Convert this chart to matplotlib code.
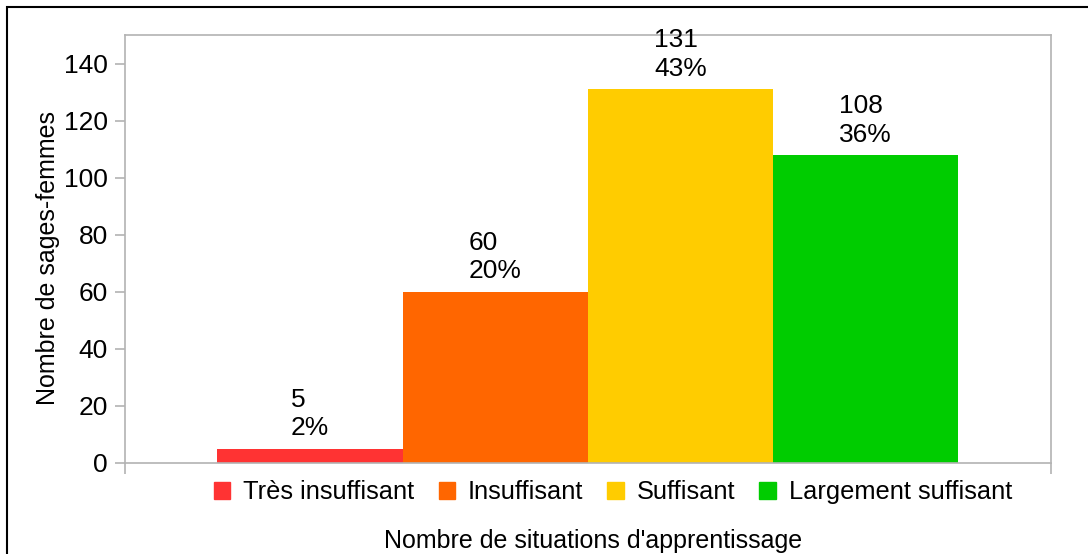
import matplotlib
matplotlib.use('Agg')
import matplotlib.pyplot as plt
from matplotlib.patches import Patch, Rectangle

# Donnees
categories = ['Très insuffisant', 'Insuffisant', 'Suffisant', 'Largement suffisant']
valeurs = [5, 60, 131, 108]
couleurs = ['#ff3333', '#ff6600', '#ffcc00', '#00cc00']
y_ticks = [0, 20, 40, 60, 80, 100, 120, 140]

plt.rcParams['font.family'] = ['Liberation Sans', 'DejaVu Sans']

fig = plt.figure(figsize=(10.88, 5.54), dpi=100)
ax = fig.add_axes([0.1146, 0.1643, 0.8514, 0.7725])

total = sum(valeurs)
largeur = 0.2
positions = [-0.3, -0.1, 0.1, 0.3]
ax.bar(positions, valeurs, width=largeur, color=couleurs)

# etiquettes au dessus des barres
for x, v in zip(positions, valeurs):
    pct = round(v / total * 100)
    ax.annotate(f'{v}\n{pct}%', xy=(x, v), xytext=(0, 6), textcoords='offset points',
                ha='center', va='bottom', multialignment='left', fontsize=19,
                linespacing=1.25, annotation_clip=False, clip_on=False)

ax.set_xlim(-0.5, 0.5)
ax.set_ylim(0, 150)
ax.set_yticks(y_ticks)
ax.set_xticks([-0.5, 0.5])
ax.set_xticklabels(['', ''])

gris = '#b3b3b3'
for s in ax.spines.values():
    s.set_color(gris)
    s.set_linewidth(1.2)
ax.tick_params(axis='y', colors=gris, labelcolor='black', labelsize=19, length=7.2, width=1.2, pad=5)
ax.tick_params(axis='x', colors=gris, length=8, width=1.2)

fig.text(48 / 1088, 1 - 258 / 554, 'Nombre de sages-femmes', fontsize=18, rotation=90,
         ha='center', va='center')
fig.text(593 / 1088, 1 - 541 / 554, "Nombre de situations d'apprentissage", fontsize=18,
         ha='center', va='center')

# legende en bas
poignees = [Patch(facecolor=c, edgecolor=c) for c in couleurs]
fig.legend(poignees, categories, loc='center', bbox_to_anchor=(613 / 1088, 1 - 492 / 554),
           ncol=4, frameon=False, fontsize=18.3, handlelength=0.65, handleheight=0.65,
           handletextpad=0.5, columnspacing=0.95, borderaxespad=0)

# cadre noir autour du graphique
fig.patches.append(Rectangle((7 / 1088, -0.1), 1.2, 1.1 - 7 / 554, transform=fig.transFigure,
                             fill=False, edgecolor='black', linewidth=1.5))

plt.savefig('out.png', dpi=100)
plt.close()
